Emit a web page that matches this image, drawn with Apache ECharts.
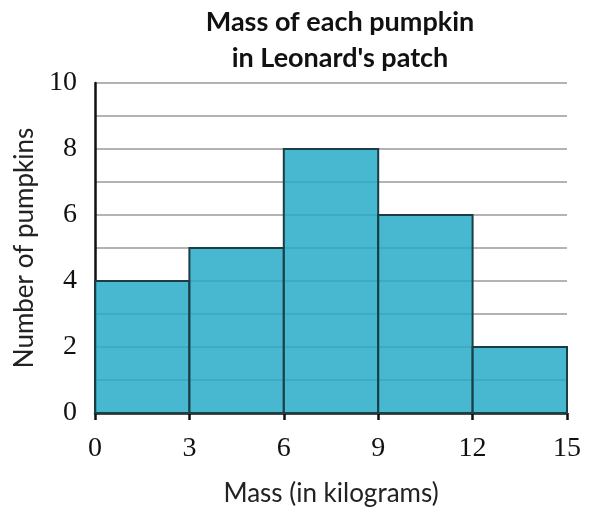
<!DOCTYPE html>
<html>
<head>
<meta charset="utf-8">
<script src="https://cdn.jsdelivr.net/npm/echarts@6/dist/echarts.min.js"></script>
<style>
  html, body { margin: 0; padding: 0; background: #fff; }
  #chart { width: 602px; height: 517px; }
</style>
</head>
<body>
<div id="chart"></div>
<script>
// bins (kg) and counts
const binStarts = [0, 3, 6, 9, 12];
const binEnds = [3, 6, 9, 12, 15];
const counts = [4, 5, 8, 6, 2];

let chart = echarts.init(document.getElementById('chart'));

let data = binStarts.map((s, i) => [s, binEnds[i], counts[i]]);

let option = {
    animation: false,
    title: {
        text: 'Mass of each pumpkin\nin Leonard\'s patch',
        left: 335,
        top: -1,
        textAlign: 'center',
        textStyle: {
            fontFamily: 'Lato',
            fontWeight: 'bold',
            fontSize: 27,
            lineHeight: 36,
            color: '#111'
        }
    },
    grid: { left: 95, right: 35, top: 83, bottom: 104 },
    xAxis: {
        type: 'value',
        min: 0,
        max: 15,
        interval: 3,
        name: 'Mass (in kilograms)',
        nameLocation: 'middle',
        nameGap: 68,
        nameTextStyle: { fontFamily: 'Lato', fontSize: 26, color: '#222' },
        axisLine: { show: true, lineStyle: { color: '#111', width: 2.5 } },
        axisTick: { show: true, length: 7, inside: false, lineStyle: { color: '#111', width: 2.5 } },
        axisLabel: {
            fontFamily: 'Liberation Serif',
            fontSize: 28,
            color: '#111',
            margin: 22
        },
        splitLine: { show: false }
    },
    yAxis: {
        type: 'value',
        min: 0,
        max: 10,
        interval: 1,
        name: 'Number of pumpkins',
        nameLocation: 'middle',
        nameGap: 56,
        nameTextStyle: { fontFamily: 'Lato', fontSize: 26, color: '#222' },
        axisLine: { show: true, lineStyle: { color: '#111', width: 2.5 } },
        axisTick: { show: false },
        axisLabel: {
            fontFamily: 'Liberation Serif',
            fontSize: 28,
            color: '#111',
            margin: 18,
            formatter: v => (v % 2 === 0 ? String(v) : '')
        },
        splitLine: { show: true, lineStyle: { color: '#9a9a9a', width: 1.5 } }
    },
    series: [{
        type: 'custom',
        data: data,
        renderItem: function(params, api) {
            let p0 = api.coord([api.value(0), api.value(2)]);
            let p1 = api.coord([api.value(1), 0]);
            return {
                type: 'rect',
                shape: { x: p0[0], y: p0[1], width: p1[0] - p0[0], height: p1[1] - p0[1] },
                style: {
                    fill: 'rgba(40,170,200,0.85)',
                    stroke: '#1d3d44',
                    lineWidth: 2
                }
            };
        }
    }]
};

option && chart.setOption(option);
</script>
</body>
</html>
